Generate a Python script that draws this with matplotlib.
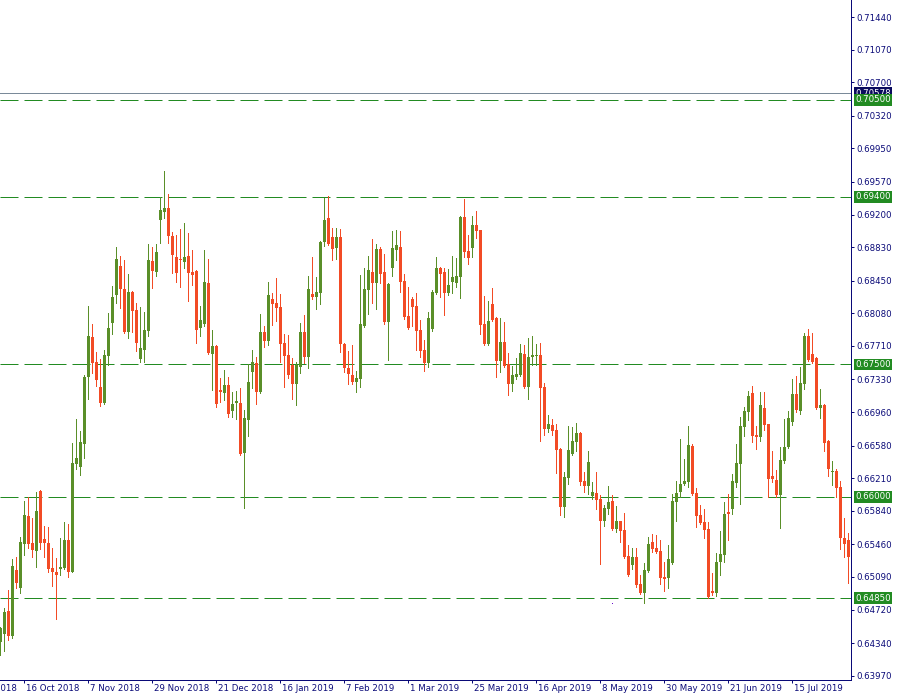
import matplotlib

matplotlib.use("Agg")
import matplotlib.pyplot as plt
import matplotlib.transforms as mtransforms
import numpy as np

# daily AUDUSD-style candles (one entry per bar, left to right)
opens = [
    0.6435, 0.6444, 0.6470, 0.6442, 0.6517, 0.6496, 0.6546, 0.6578, 0.6548, 0.6538,
    0.6607, 0.6552, 0.6548, 0.6519, 0.6515, 0.6518, 0.6519, 0.6551, 0.6515, 0.6637,
    0.6634, 0.6660, 0.6736, 0.6781, 0.6753, 0.6724, 0.6706, 0.6760, 0.6797, 0.6829,
    0.6862, 0.6836, 0.6787, 0.6832, 0.6812, 0.6756, 0.6766, 0.6788, 0.6867, 0.6855,
    0.6914, 0.6923, 0.6927, 0.6896, 0.6872, 0.6869, 0.6866, 0.6873, 0.6855, 0.6856,
    0.6791, 0.6796, 0.6842, 0.6762, 0.6771, 0.6721, 0.6718, 0.6727, 0.6697, 0.6706,
    0.6706, 0.6650, 0.6687, 0.6741, 0.6752, 0.6719, 0.6787, 0.6777, 0.6824, 0.6820,
    0.6815, 0.6774, 0.6761, 0.6749, 0.6728, 0.6747, 0.6787, 0.6758, 0.6830, 0.6827,
    0.6831, 0.6889, 0.6916, 0.6895, 0.6882, 0.6895, 0.6773, 0.6746, 0.6738, 0.6730,
    0.6734, 0.6794, 0.6834, 0.6855, 0.6842, 0.6881, 0.6855, 0.6798, 0.6859, 0.6880,
    0.6883, 0.6845, 0.6805, 0.6824, 0.6816, 0.6789, 0.6766, 0.6752, 0.6790, 0.6831,
    0.6859, 0.6855, 0.6831, 0.6844, 0.6842, 0.6849, 0.6917, 0.6879, 0.6882, 0.6908,
    0.6902, 0.6796, 0.6773, 0.6819, 0.6803, 0.6754, 0.6776, 0.6751, 0.6728, 0.6736,
    0.6738, 0.6762, 0.6724, 0.6758, 0.6760, 0.6761, 0.6724, 0.6677, 0.6681, 0.6676,
    0.6654, 0.6588, 0.6621, 0.6648, 0.6662, 0.6672, 0.6618, 0.6612, 0.6601, 0.6604,
    0.6597, 0.6572, 0.6586, 0.6595, 0.6563, 0.6572, 0.6562, 0.6533, 0.6523, 0.6532,
    0.6501, 0.6491, 0.6516, 0.6549, 0.6542, 0.6538, 0.6509, 0.6508, 0.6525, 0.6594,
    0.6605, 0.6614, 0.6617, 0.6658, 0.6604, 0.6579, 0.6571, 0.6563, 0.6493, 0.6491,
    0.6526, 0.6534, 0.6583, 0.6586, 0.6616, 0.6637, 0.6679, 0.6696, 0.6718, 0.6670,
    0.6668, 0.6701, 0.6682, 0.6624, 0.6619, 0.6602, 0.6641, 0.6656, 0.6685, 0.6716,
    0.6697, 0.6728, 0.6782, 0.6762, 0.6757, 0.6701, 0.6704, 0.6663, 0.6628, 0.6629,
    0.6611, 0.6553, 0.6551,
]
highs = [
    0.6452, 0.6474, 0.6494, 0.6529, 0.6532, 0.6554, 0.6595, 0.6600, 0.6576, 0.6605,
    0.6608, 0.6567, 0.6566, 0.6542, 0.6531, 0.6553, 0.6571, 0.6569, 0.6661, 0.6688,
    0.6675, 0.6738, 0.6816, 0.6796, 0.6764, 0.6756, 0.6766, 0.6808, 0.6839, 0.6883,
    0.6873, 0.6869, 0.6853, 0.6833, 0.6820, 0.6815, 0.6810, 0.6887, 0.6883, 0.6887,
    0.6940, 0.6969, 0.6943, 0.6900, 0.6897, 0.6904, 0.6910, 0.6899, 0.6880, 0.6857,
    0.6816, 0.6880, 0.6870, 0.6789, 0.6772, 0.6735, 0.6744, 0.6736, 0.6719, 0.6720,
    0.6723, 0.6698, 0.6751, 0.6766, 0.6758, 0.6807, 0.6794, 0.6844, 0.6831, 0.6848,
    0.6830, 0.6785, 0.6783, 0.6757, 0.6753, 0.6797, 0.6806, 0.6850, 0.6872, 0.6849,
    0.6890, 0.6939, 0.6941, 0.6905, 0.6905, 0.6904, 0.6774, 0.6765, 0.6772, 0.6743,
    0.6851, 0.6859, 0.6873, 0.6892, 0.6887, 0.6883, 0.6875, 0.6842, 0.6901, 0.6903,
    0.6901, 0.6853, 0.6838, 0.6827, 0.6831, 0.6800, 0.6778, 0.6810, 0.6834, 0.6872,
    0.6861, 0.6859, 0.6858, 0.6873, 0.6871, 0.6918, 0.6938, 0.6897, 0.6918, 0.6924,
    0.6903, 0.6828, 0.6822, 0.6837, 0.6804, 0.6803, 0.6798, 0.6763, 0.6748, 0.6757,
    0.6773, 0.6772, 0.6780, 0.6782, 0.6773, 0.6774, 0.6729, 0.6693, 0.6688, 0.6682,
    0.6655, 0.6628, 0.6680, 0.6679, 0.6684, 0.6673, 0.6628, 0.6652, 0.6617, 0.6628,
    0.6602, 0.6591, 0.6612, 0.6602, 0.6590, 0.6573, 0.6582, 0.6545, 0.6542, 0.6542,
    0.6511, 0.6525, 0.6554, 0.6558, 0.6557, 0.6551, 0.6526, 0.6545, 0.6603, 0.6618,
    0.6665, 0.6643, 0.6680, 0.6660, 0.6610, 0.6591, 0.6586, 0.6571, 0.6513, 0.6536,
    0.6561, 0.6594, 0.6603, 0.6626, 0.6660, 0.6691, 0.6702, 0.6720, 0.6726, 0.6680,
    0.6719, 0.6719, 0.6683, 0.6652, 0.6630, 0.6656, 0.6688, 0.6697, 0.6733, 0.6737,
    0.6747, 0.6786, 0.6790, 0.6786, 0.6758, 0.6722, 0.6705, 0.6664, 0.6641, 0.6632,
    0.6618, 0.6576, 0.6559,
]
lows = [
    0.6420, 0.6425, 0.6438, 0.6440, 0.6496, 0.6491, 0.6534, 0.6542, 0.6532, 0.6520,
    0.6541, 0.6532, 0.6515, 0.6499, 0.6461, 0.6511, 0.6518, 0.6509, 0.6515, 0.6631,
    0.6625, 0.6644, 0.6711, 0.6740, 0.6726, 0.6703, 0.6705, 0.6749, 0.6785, 0.6820,
    0.6814, 0.6786, 0.6780, 0.6787, 0.6765, 0.6753, 0.6753, 0.6782, 0.6837, 0.6850,
    0.6888, 0.6916, 0.6888, 0.6854, 0.6844, 0.6838, 0.6859, 0.6822, 0.6840, 0.6774,
    0.6782, 0.6794, 0.6762, 0.6721, 0.6702, 0.6707, 0.6710, 0.6690, 0.6690, 0.6688,
    0.6647, 0.6587, 0.6669, 0.6723, 0.6705, 0.6718, 0.6770, 0.6772, 0.6795, 0.6799,
    0.6753, 0.6724, 0.6735, 0.6711, 0.6704, 0.6740, 0.6752, 0.6746, 0.6824, 0.6813,
    0.6819, 0.6884, 0.6886, 0.6869, 0.6870, 0.6764, 0.6741, 0.6728, 0.6728, 0.6719,
    0.6724, 0.6792, 0.6807, 0.6820, 0.6813, 0.6842, 0.6796, 0.6755, 0.6850, 0.6869,
    0.6832, 0.6802, 0.6790, 0.6794, 0.6766, 0.6758, 0.6743, 0.6747, 0.6788, 0.6830,
    0.6827, 0.6806, 0.6829, 0.6831, 0.6838, 0.6825, 0.6872, 0.6864, 0.6872, 0.6893,
    0.6785, 0.6772, 0.6772, 0.6799, 0.6736, 0.6741, 0.6747, 0.6715, 0.6720, 0.6734,
    0.6737, 0.6723, 0.6711, 0.6749, 0.6749, 0.6663, 0.6670, 0.6673, 0.6670, 0.6627,
    0.6579, 0.6577, 0.6614, 0.6647, 0.6652, 0.6613, 0.6605, 0.6603, 0.6597, 0.6586,
    0.6524, 0.6567, 0.6580, 0.6562, 0.6560, 0.6549, 0.6531, 0.6510, 0.6518, 0.6498,
    0.6490, 0.6479, 0.6515, 0.6537, 0.6536, 0.6501, 0.6493, 0.6496, 0.6524, 0.6572,
    0.6600, 0.6613, 0.6611, 0.6602, 0.6566, 0.6569, 0.6553, 0.6485, 0.6489, 0.6488,
    0.6511, 0.6526, 0.6551, 0.6580, 0.6611, 0.6592, 0.6669, 0.6687, 0.6662, 0.6654,
    0.6663, 0.6676, 0.6600, 0.6617, 0.6600, 0.6565, 0.6638, 0.6655, 0.6681, 0.6696,
    0.6694, 0.6722, 0.6754, 0.6752, 0.6700, 0.6689, 0.6652, 0.6623, 0.6613, 0.6600,
    0.6541, 0.6532, 0.6502,
]
closes = [
    0.6451, 0.6469, 0.6442, 0.6521, 0.6502, 0.6549, 0.6579, 0.6546, 0.6540, 0.6584,
    0.6548, 0.6548, 0.6518, 0.6515, 0.6511, 0.6520, 0.6551, 0.6515, 0.6638, 0.6644,
    0.6662, 0.6736, 0.6782, 0.6752, 0.6732, 0.6706, 0.6761, 0.6791, 0.6827, 0.6870,
    0.6836, 0.6787, 0.6832, 0.6811, 0.6774, 0.6769, 0.6789, 0.6869, 0.6856, 0.6878,
    0.6925, 0.6927, 0.6896, 0.6874, 0.6854, 0.6868, 0.6872, 0.6854, 0.6851, 0.6789,
    0.6800, 0.6844, 0.6763, 0.6771, 0.6705, 0.6719, 0.6727, 0.6694, 0.6705, 0.6709,
    0.6648, 0.6689, 0.6730, 0.6753, 0.6719, 0.6787, 0.6777, 0.6829, 0.6819, 0.6814,
    0.6773, 0.6760, 0.6738, 0.6728, 0.6749, 0.6787, 0.6758, 0.6836, 0.6827, 0.6832,
    0.6889, 0.6914, 0.6887, 0.6881, 0.6895, 0.6773, 0.6746, 0.6739, 0.6730, 0.6735,
    0.6796, 0.6836, 0.6857, 0.6842, 0.6881, 0.6853, 0.6798, 0.6841, 0.6882, 0.6886,
    0.6844, 0.6804, 0.6791, 0.6815, 0.6788, 0.6765, 0.6752, 0.6803, 0.6832, 0.6859,
    0.6853, 0.6831, 0.6840, 0.6849, 0.6850, 0.6917, 0.6878, 0.6871, 0.6908, 0.6901,
    0.6795, 0.6773, 0.6799, 0.6800, 0.6754, 0.6776, 0.6748, 0.6728, 0.6738, 0.6739,
    0.6763, 0.6724, 0.6758, 0.6761, 0.6761, 0.6723, 0.6677, 0.6682, 0.6675, 0.6653,
    0.6588, 0.6622, 0.6653, 0.6663, 0.6672, 0.6617, 0.6612, 0.6639, 0.6605, 0.6596,
    0.6572, 0.6587, 0.6594, 0.6563, 0.6572, 0.6561, 0.6532, 0.6511, 0.6532, 0.6500,
    0.6491, 0.6517, 0.6546, 0.6541, 0.6537, 0.6508, 0.6507, 0.6529, 0.6595, 0.6604,
    0.6614, 0.6618, 0.6659, 0.6603, 0.6578, 0.6570, 0.6562, 0.6486, 0.6491, 0.6526,
    0.6535, 0.6580, 0.6580, 0.6618, 0.6638, 0.6680, 0.6697, 0.6714, 0.6669, 0.6668,
    0.6704, 0.6681, 0.6620, 0.6620, 0.6602, 0.6642, 0.6656, 0.6689, 0.6716, 0.6698,
    0.6729, 0.6782, 0.6755, 0.6753, 0.6701, 0.6704, 0.6661, 0.6631, 0.6629, 0.6610,
    0.6553, 0.6546, 0.6532,
]

# horizontal support/resistance levels and current bid
levels = [0.7050, 0.6940, 0.6750, 0.6600, 0.6485]
bid_price = 0.70578
marker_bar = 153
marker_price = 0.6479

price_ticks = [0.71440, 0.71070, 0.70700, 0.70320, 0.69950, 0.69570, 0.69200,
               0.68830, 0.68450, 0.68080, 0.67710, 0.67330, 0.66960, 0.66580,
               0.66210, 0.65840, 0.65460, 0.65090, 0.64720, 0.64340, 0.63970]
date_labels = ["24 Sep 2018", "16 Oct 2018", "7 Nov 2018", "29 Nov 2018",
               "21 Dec 2018", "16 Jan 2019", "7 Feb 2019", "1 Mar 2019",
               "25 Mar 2019", "16 Apr 2019", "8 May 2019", "30 May 2019",
               "21 Jun 2019", "15 Jul 2019"]
date_bars = list(range(-10, 213, 16))

UP = "#5a8f29"
DOWN = "#f24b25"
LEVEL = "#228b22"
NAVY = "#0a0a78"
PX = 0.72  # one pixel in points at dpi 100

fig = plt.figure(figsize=(9, 7), dpi=100)
fig.patch.set_facecolor("white")
ax = fig.add_axes([0, 20 / 700, 851 / 900, 680 / 700])

o = np.array(opens)
h = np.array(highs)
l = np.array(lows)
c = np.array(closes)
x = np.arange(len(o))
cols = np.where(c >= o, UP, DOWN)

# wicks then bodies
ax.vlines(x, l, h, colors=cols, linewidth=PX, antialiased=False, zorder=3)
body_lo = np.minimum(o, c)
body_h = np.maximum(np.abs(c - o), 0.00011)
ax.bar(x, body_h, bottom=body_lo, width=0.75, color=cols, linewidth=0,
       antialiased=False, zorder=4)

# levels
for lvl in levels:
    ax.axhline(lvl, color=LEVEL, linewidth=PX, dashes=(18, 6), zorder=2)
ax.axhline(bid_price, color="#7a8a99", linewidth=PX, zorder=2)
ax.plot([marker_bar], [marker_price], marker="s", markersize=0.7,
        markeredgewidth=0, color="#6a0dcc", linestyle="none", zorder=5)

ax.set_xlim(-0.075, 212.675)
ax.set_ylim(0.63922, 0.71633)

for side in ["top", "left"]:
    ax.spines[side].set_visible(False)
for side in ["right", "bottom"]:
    ax.spines[side].set_color(NAVY)
    ax.spines[side].set_linewidth(PX)

# price scale on the right
ax.yaxis.tick_right()
ax.set_yticks(price_ticks)
ax.set_yticklabels(["%.5f" % v for v in price_ticks])
ax.tick_params(axis="y", direction="out", length=2.5, width=PX, color=NAVY,
               labelcolor=NAVY, labelsize=6.2, pad=1.5)

# date scale at the bottom
ax.set_xticks([b for b in date_bars if b >= 0])
ax.set_xticklabels([])
ax.tick_params(axis="x", direction="out", length=2.5, width=PX, color=NAVY)
dtrans = mtransforms.blended_transform_factory(ax.transData, ax.transAxes)
offset = mtransforms.ScaledTranslation(2 / 100, -4 / 100, fig.dpi_scale_trans)
for b, lab in zip(date_bars, date_labels):
    ax.text(b, 0, lab, transform=dtrans + offset, ha="left", va="top",
            fontsize=6.2, color=NAVY, clip_on=False)

# price boxes on the scale
btrans = mtransforms.blended_transform_factory(ax.transAxes, ax.transData)
ax.text(1 + 4 / 851, bid_price, "%.5f" % bid_price, transform=btrans,
        ha="left", va="center", fontsize=6.2, color="white", clip_on=False,
        bbox=dict(boxstyle="square,pad=0.15", fc="#0b0b5e", ec="none"), zorder=6)
for lvl in levels:
    ax.text(1 + 4 / 851, lvl, "%.5f" % lvl, transform=btrans,
            ha="left", va="center", fontsize=6.2, color="white", clip_on=False,
            bbox=dict(boxstyle="square,pad=0.15", fc=LEVEL, ec="none"), zorder=7)

fig.savefig("out.png", dpi=100)
